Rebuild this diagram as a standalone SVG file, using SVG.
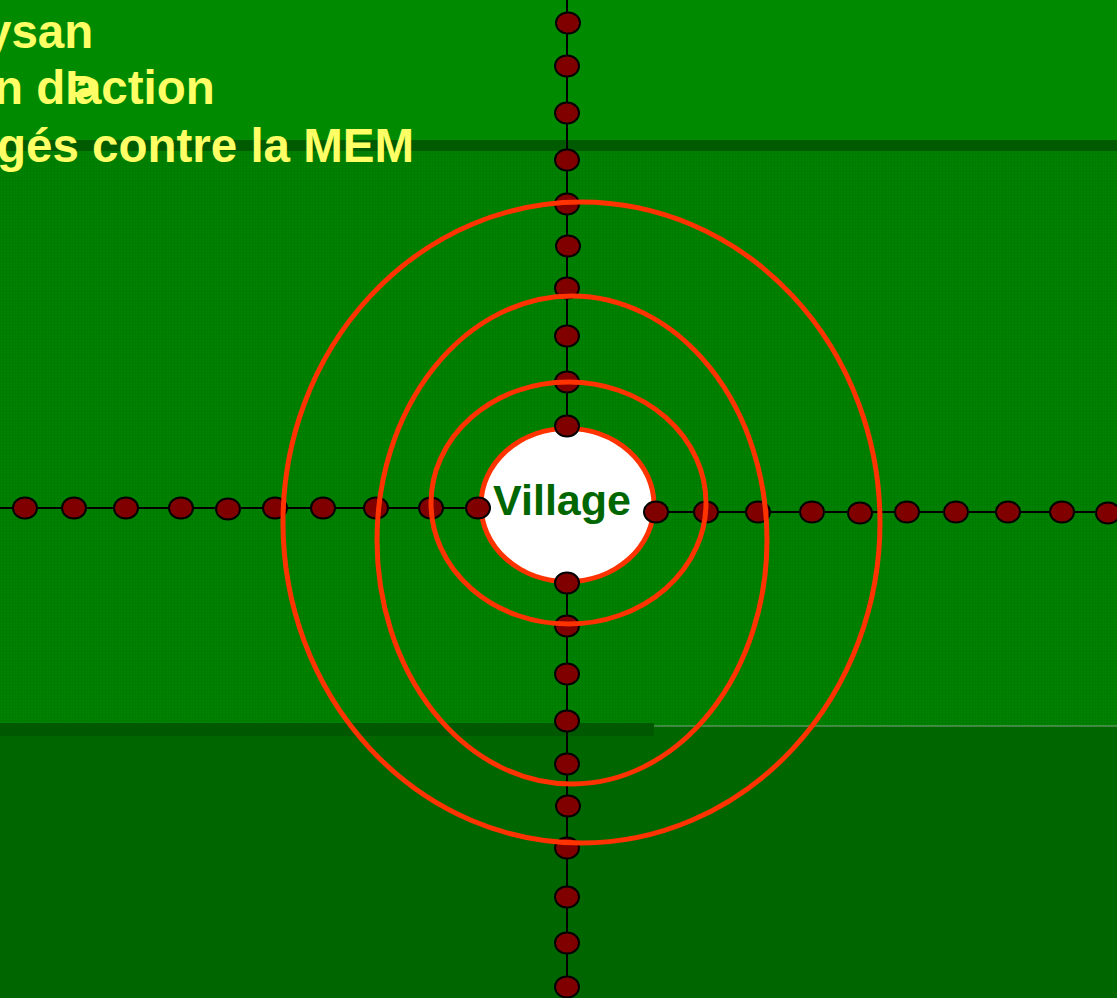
<svg xmlns="http://www.w3.org/2000/svg" width="1117" height="998" viewBox="0 0 1117 998">
<style>
.title{font-family:"Liberation Sans",Arial,sans-serif;font-weight:bold;font-size:47.5px;fill:#ffff66}
.vil{font-family:"Liberation Sans",Arial,sans-serif;font-weight:bold;font-size:43px;fill:#006600}
.ln{stroke:#000;stroke-width:2;fill:none}
.dot{fill:#800000;stroke:#000;stroke-width:2}
.ring{fill:none;stroke:#ff3300;stroke-width:5}
</style>
<defs>
<pattern id="tex" width="3" height="3" patternUnits="userSpaceOnUse">
<rect width="3" height="3" fill="#008000"/>
<rect width="1" height="1" fill="#007000"/>
</pattern>
</defs>
<g id="background">
<rect x="0" y="0" width="1117" height="140" fill="#008a00"/>
<rect x="0" y="140" width="1117" height="11" fill="#005a00"/>
<rect x="0" y="151" width="1117" height="575" fill="url(#tex)"/>
<rect x="0" y="726" width="1117" height="272" fill="#006600"/>
<rect x="0" y="723" width="654" height="13" fill="#005800"/>
<line x1="654" y1="726" x2="1117" y2="726" stroke="#7fa07f" stroke-width="1"/>
</g>
<g id="title">
<text class="title" x="-15" y="48">ysan</text>
<text class="title" x="-6" y="104">n d<tspan>Þ</tspan><tspan dx="-22">action</tspan></text>
<text class="title" x="-3" y="162">gés contre la MEM</text>
</g>
<g id="connectors">
<line class="ln" x1="567" y1="0" x2="567" y2="430"/>
<line class="ln" x1="567" y1="563" x2="567" y2="998"/>
<line class="ln" x1="0" y1="508" x2="500" y2="508"/>
<line class="ln" x1="656" y1="512" x2="1117" y2="512"/>
</g>
<g id="dots">
<ellipse class="dot" cx="568" cy="23" rx="12" ry="10.5"/>
<ellipse class="dot" cx="567" cy="66" rx="12" ry="10.5"/>
<ellipse class="dot" cx="567" cy="113" rx="12" ry="10.5"/>
<ellipse class="dot" cx="567" cy="160" rx="12" ry="10.5"/>
<ellipse class="dot" cx="567" cy="204" rx="12" ry="10.5"/>
<ellipse class="dot" cx="568" cy="246" rx="12" ry="10.5"/>
<ellipse class="dot" cx="567" cy="288" rx="12" ry="10.5"/>
<ellipse class="dot" cx="567" cy="336" rx="12" ry="10.5"/>
<ellipse class="dot" cx="567" cy="382" rx="12" ry="10.5"/>
<ellipse class="dot" cx="567" cy="674" rx="12" ry="10.5"/>
<ellipse class="dot" cx="567" cy="626" rx="12" ry="10.5"/>
<ellipse class="dot" cx="567" cy="721" rx="12" ry="10.5"/>
<ellipse class="dot" cx="567" cy="764" rx="12" ry="10.5"/>
<ellipse class="dot" cx="568" cy="806" rx="12" ry="10.5"/>
<ellipse class="dot" cx="567" cy="848" rx="12" ry="10.5"/>
<ellipse class="dot" cx="567" cy="897" rx="12" ry="10.5"/>
<ellipse class="dot" cx="567" cy="943" rx="12" ry="10.5"/>
<ellipse class="dot" cx="567" cy="987" rx="12" ry="10.5"/>
<ellipse class="dot" cx="25" cy="508" rx="12" ry="10.5"/>
<ellipse class="dot" cx="74" cy="508" rx="12" ry="10.5"/>
<ellipse class="dot" cx="126" cy="508" rx="12" ry="10.5"/>
<ellipse class="dot" cx="181" cy="508" rx="12" ry="10.5"/>
<ellipse class="dot" cx="228" cy="509" rx="12" ry="10.5"/>
<ellipse class="dot" cx="275" cy="508" rx="12" ry="10.5"/>
<ellipse class="dot" cx="323" cy="508" rx="12" ry="10.5"/>
<ellipse class="dot" cx="376" cy="508" rx="12" ry="10.5"/>
<ellipse class="dot" cx="431" cy="508" rx="12" ry="10.5"/>
<ellipse class="dot" cx="706" cy="512" rx="12" ry="10.5"/>
<ellipse class="dot" cx="758" cy="512" rx="12" ry="10.5"/>
<ellipse class="dot" cx="812" cy="512" rx="12" ry="10.5"/>
<ellipse class="dot" cx="860" cy="513" rx="12" ry="10.5"/>
<ellipse class="dot" cx="907" cy="512" rx="12" ry="10.5"/>
<ellipse class="dot" cx="956" cy="512" rx="12" ry="10.5"/>
<ellipse class="dot" cx="1008" cy="512" rx="12" ry="10.5"/>
<ellipse class="dot" cx="1062" cy="512" rx="12" ry="10.5"/>
<ellipse class="dot" cx="1108" cy="513" rx="12" ry="10.5"/>
</g>
<g id="rings">
<ellipse class="ring" cx="581.5" cy="522.5" rx="298.5" ry="320.5"/>
<ellipse class="ring" cx="572" cy="540" rx="195" ry="244"/>
<ellipse class="ring" cx="568.5" cy="503" rx="137.5" ry="121"/>
</g>
<g id="village">
<ellipse cx="567.5" cy="505" rx="86.5" ry="76.5" fill="#ffffff" stroke="#ff3300" stroke-width="5"/>
<text class="vil" x="562" y="515" text-anchor="middle">Village</text>
<ellipse class="dot" cx="567" cy="426" rx="12" ry="10.5"/>
<ellipse class="dot" cx="567" cy="583" rx="12" ry="10.5"/>
<ellipse class="dot" cx="478" cy="508" rx="12" ry="10.5"/>
<ellipse class="dot" cx="656" cy="512" rx="12" ry="10.5"/>
</g>
</svg>
